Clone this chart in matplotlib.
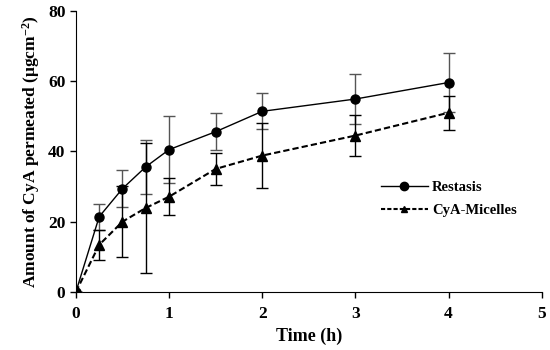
import matplotlib
matplotlib.use("Agg")
import matplotlib.pyplot as plt
from matplotlib.lines import Line2D

plt.rcParams['font.family'] = ['Liberation Serif', 'DejaVu Serif']
plt.rcParams['font.weight'] = 'bold'
plt.rcParams['mathtext.fontset'] = 'custom'
plt.rcParams['mathtext.rm'] = 'Liberation Serif:bold'
plt.rcParams['mathtext.default'] = 'rm'

# -----------------------------
# data
# -----------------------------
time_h = [0, 0.25, 0.5, 0.75, 1, 1.5, 2, 3, 4]

restasis = [0, 21.4, 29.4, 35.6, 40.5, 45.6, 51.4, 54.9, 59.6]
restasis_err = [0, 3.7, 5.3, 7.7, 9.5, 5.3, 5.1, 7.2, 8.4]

micelles = [0, 13.4, 20.0, 23.9, 27.1, 35.0, 38.8, 44.5, 51.0]
micelles_err = [0, 4.3, 10.1, 18.4, 5.2, 4.5, 9.3, 5.9, 4.9]

x_ticks = [0, 1, 2, 3, 4, 5]
y_ticks = [0, 20, 40, 60, 80]

# -----------------------------
# plot
# -----------------------------
fig = plt.figure(figsize=(5.5, 3.5), dpi=100)
ax = fig.add_axes([0.138, 0.166, 0.847, 0.803])

ax.errorbar(time_h, restasis, yerr=restasis_err, color='black', ecolor='#555555',
            elinewidth=1, capsize=4, capthick=1, lw=1, marker='o', ms=6.5,
            zorder=3)
ax.errorbar(time_h, micelles, yerr=micelles_err, color='black', ecolor='black',
            elinewidth=1, capsize=4, capthick=1, lw=1.5, ls=(0, (3, 1.5)),
            marker='^', ms=6.5, zorder=3)

ax.set_xlim(0, 5)
ax.set_ylim(0, 80)
ax.set_xticks(x_ticks)
ax.set_yticks(y_ticks)
ax.tick_params(direction='out', length=4, width=1, labelsize=12.5)
ax.tick_params(axis='x', pad=6)
ax.spines['top'].set_visible(False)
ax.spines['right'].set_visible(False)

ax.set_xlabel('Time (h)', fontsize=13, fontweight='bold', labelpad=4)
ax.set_ylabel('Amount of CyA permeated (μgcm$^{-2}$)', fontsize=12.5, fontweight='bold')

# legend without the error bar marks
handles = [
    Line2D([], [], color='black', lw=1, marker='o', ms=6),
    Line2D([], [], color='black', lw=1.5, ls=(0, (2, 1)), marker='^', ms=5),
]
ax.legend(handles, ['Restasis', 'CyA-Micelles'], loc='center left',
          bbox_to_anchor=(0.655, 0.33), borderaxespad=0, borderpad=0,
          frameon=False, fontsize=10.5, handlelength=3.2, handletextpad=0.3,
          labelspacing=0.7)

plt.savefig('out.png', dpi=100)
